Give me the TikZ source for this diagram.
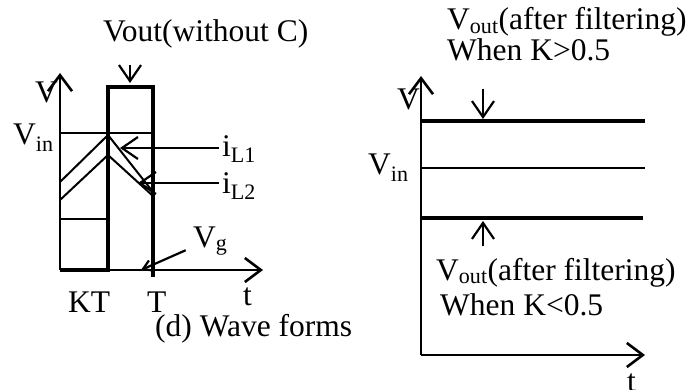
\documentclass[tikz,border=0pt]{standalone}
\usepackage{fontspec}
\setmainfont{Liberation Serif}
\usetikzlibrary{arrows.meta, positioning}

\begin{document}
\begin{tikzpicture}[x=1pt, y=-1pt,
  lbl/.style={inner sep=0pt, anchor=base west, font=\fontsize{31.5}{36}\selectfont},
  axisln/.style={line width=2.6pt, -{Straight Barb[length=16pt, width=24pt]}},
  wave/.style={line width=4pt},
  thinln/.style={line width=1.3pt},
  ramp/.style={line width=2pt},
  pointer/.style={line width=2.2pt, -{Straight Barb[length=16pt, width=22pt]}}
]
  \useasboundingbox (0,0) rectangle (700,390);

  % Left plot: axes
  \coordinate (oL) at (60,270);
  \draw[axisln] (oL) -- (60,73);
  \draw[axisln] (oL) -- (263,270);

  % Output without capacitor
  \draw[wave, line join=miter] (oL) -- (108,270) -- (108,87) -- (153,87) -- (153,277);
  \draw[thinln] (60,133) -- (153,133);
  \draw[thinln] (60,219) -- (108,219);

  % Inductor currents
  \draw[ramp] (60,182) -- (108,135) -- (153,192);
  \draw[ramp] (60,200) -- (108,155) -- (153,196);

  % Tips of the pointers
  \coordinate (pulseTip) at (130,83);
  \coordinate (iLoneTip) at (120,148);
  \coordinate (iLtwoTip) at (138,183);
  \coordinate (vgTip) at (141,270);

  % Left labels
  \node[lbl] (lblPulse) at (103,42) {Vout(without C)};
  \node[lbl, inner xsep=3pt] (lblILone) at (219,157) {i\textsubscript{L1}};
  \node[lbl, inner xsep=3pt] (lblILtwo) at (219,193) {i\textsubscript{L2}};
  \node[lbl] (lblVg) at (193,247) {V\textsubscript{g}};
  \foreach \nm/\x/\y/\txt in {lblVL/35/103/V, lblVinL/13/145/V\textsubscript{in},
      lblKT/68/312/KT, lblT/147/312/T, lblTL/243/305/t, lblCap/155/336/(d) Wave forms} {
    \node[lbl] (\nm) at (\x,\y) {\txt};
  }

  \draw[pointer] (lblPulse.south -| pulseTip) ++(0,16) -- (pulseTip);
  \draw[pointer] (lblILone.west |- iLoneTip) -- (iLoneTip);
  \draw[pointer] (lblILtwo.west |- iLtwoTip) -- (iLtwoTip);
  \draw[pointer, -{Straight Barb[length=9pt, width=11pt]}, shorten <=8pt] (lblVg.base west) -- (vgTip);

  % Right plot: axes
  \coordinate (oR) at (421,355);
  \draw[axisln] (oR) -- (421,76);
  \draw[axisln] (oR) -- (645,355);

  % Filtered outputs
  \draw[wave] (421,121) -- (645,121);
  \draw[thinln] (421,168) -- (645,168);
  \draw[wave] (421,218) -- (643,218);

  \coordinate (downTip) at (483,119);
  \coordinate (upTip) at (483,221);

  % Right labels
  \node[lbl] (lblTopA) at (447,30) {V\textsubscript{out}(after filtering)};
  \node[lbl] (lblTopB) at (447,61) {When K>0.5};
  \node[lbl] (lblBotA) at (436,280) {V\textsubscript{out}(after filtering)};
  \node[lbl] (lblBotB) at (440,315) {When K<0.5};
  \foreach \nm/\x/\y/\txt in {lblVR/397/110/V, lblVinR/368/175/V\textsubscript{in}, lblTR/627/391/t} {
    \node[lbl] (\nm) at (\x,\y) {\txt};
  }

  \draw[pointer] (lblTopB.south -| downTip) ++(0,27) -- (downTip);
  \draw[pointer] (lblBotA.north -| upTip) ++(0,-12) -- (upTip);
\end{tikzpicture}
\end{document}
